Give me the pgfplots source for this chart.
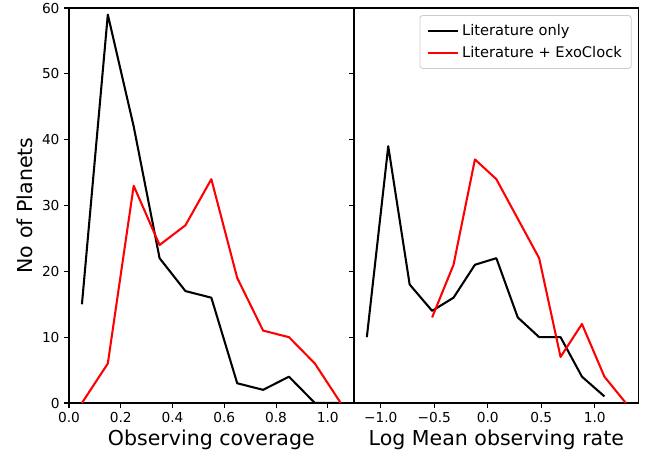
\documentclass[border=0pt]{standalone}
\usepackage{fontspec}
\setmainfont{DejaVu Sans}
\usepackage{pgfplots}
\pgfplotsset{compat=1.18}
\usepackage{pgfplotstable}

% binned counts
\pgfplotstableread{
x     lit  exo
0.05  15   0
0.15  59   6
0.25  42   33
0.35  22   24
0.45  17   27
0.55  16   34
0.65  3    19
0.75  2    11
0.85  4    10
0.95  0    6
1.05  0    0
}\coverage

\pgfplotstableread{
x      lit
-1.13  10
-0.93  39
-0.73  18
-0.52  14
-0.32  16
-0.12  21
0.08   22
0.28   13
0.48   10
0.68   10
0.88   4
1.09   1
}\ratelit

\pgfplotstableread{
x      exo
-0.52  13
-0.32  21
-0.12  37
0.08   34
0.28   28
0.48   22
0.68   7
0.88   12
1.09   4
1.29   0
}\rateexo

\pgfplotsset{
  panel/.style={
    scale only axis,
    width=213.5pt, height=296.25pt,
    ymin=0, ymax=60,
    ytick={0,10,...,60},
    tick align=outside,
    major tick length=3.6pt,
    axis line style={line width=0.8pt},
    every tick/.style={black, line width=0.8pt},
    tick label style={font=\fontsize{10.3}{12}\selectfont},
    label style={font=\fontsize{15.4}{18}\selectfont},
    /pgf/number format/assume math mode=true,
    every axis plot/.append style={line width=1.55pt, line join=round},
  },
}

\begin{document}
\begin{tikzpicture}
\path[use as bounding box] (-51.75pt,-40.5pt) rectangle (439.5pt,302.25pt);

\begin{axis}[panel,
  at={(0pt,0pt)}, anchor=south west,
  xmin=0, xmax=1.1,
  xtick={0,0.2,...,1.0},
  xticklabels={0.0,0.2,0.4,0.6,0.8,1.0},
  yticklabels={0,10,20,30,40,50,60},
  xtick pos=bottom, ytick pos=left,
  xlabel={Observing coverage},
  ylabel={No of Planets},
  xlabel style={at={(axis description cs:0.5,-0.094)}, anchor=center},
  ylabel style={at={(axis description cs:-0.1544,0.5)}, anchor=center},
]
\addplot[black] table[x=x, y=lit] {\coverage};
\addplot[red] table[x=x, y=exo] {\coverage};
\end{axis}

\begin{axis}[panel,
  at={(213.75pt,0pt)}, anchor=south west,
  xmin=-1.25, xmax=1.41,
  xtick={-1,-0.5,0,0.5,1},
  xticklabels={−1.0,−0.5,0.0,0.5,1.0},
  yticklabels={},
  xtick pos=bottom, ytick pos=left,
  xlabel={Log Mean observing rate},
  xlabel style={at={(axis description cs:0.5,-0.094)}, anchor=center},
  legend style={at={(0.975,0.982)}, anchor=north east,
    draw=black!20, rounded corners=2pt, line width=0.6pt,
    font=\fontsize{11}{13}\selectfont,
    inner xsep=5pt, inner ysep=4.5pt,
    row sep=3pt},
  legend cell align=left,
  legend image code/.code={\draw[#1] (0pt,0pt) -- (23pt,0pt);},
]
\addplot[black] table[x=x, y=lit] {\ratelit};
\addlegendentry{Literature only}
\addplot[red] table[x=x, y=exo] {\rateexo};
\addlegendentry{Literature + ExoClock}
\end{axis}
\end{tikzpicture}
\end{document}
